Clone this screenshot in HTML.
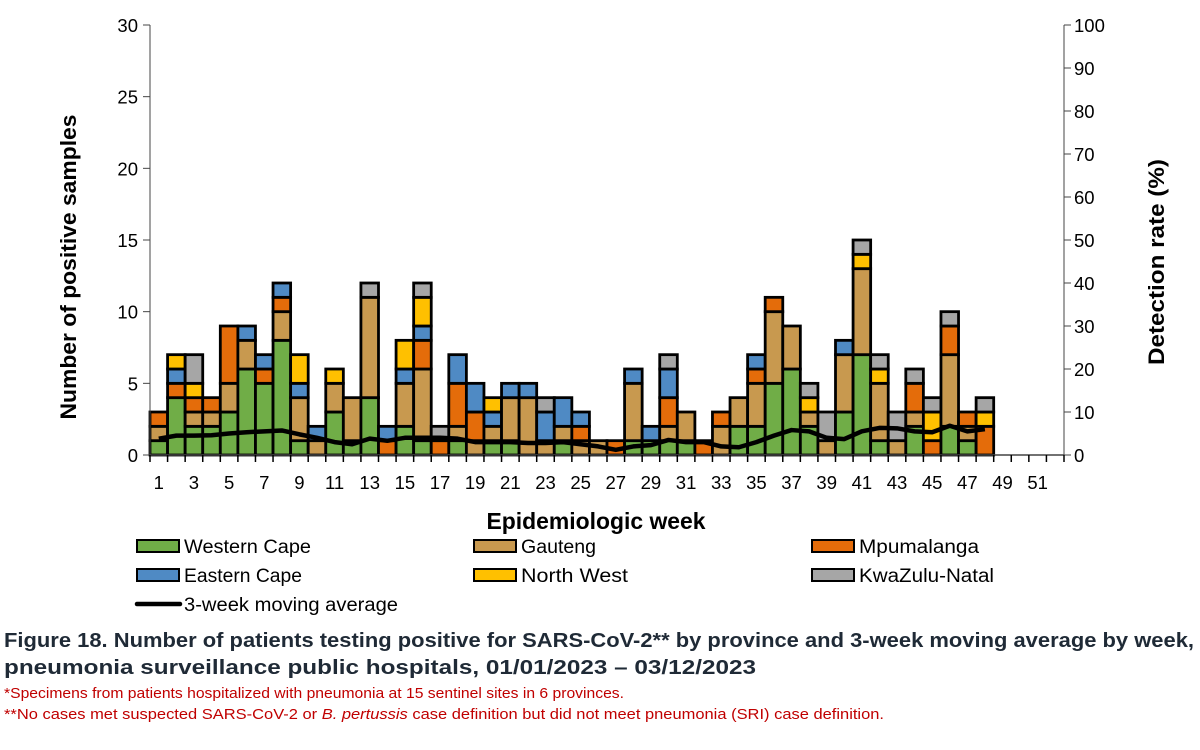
<!DOCTYPE html>
<html><head><meta charset="utf-8"><style>
body{margin:0;background:#fff;width:1200px;height:745px;overflow:hidden;font-family:"Liberation Sans",sans-serif}
svg text{font-family:"Liberation Sans",sans-serif}
</style></head><body>
<svg id="c" width="1200" height="745"></svg>
<script>
const weeks=[];for(let i=1;i<=52;i++)weeks.push(i);
const westernCape=[1,4,2,2,3,6,5,8,1,0,3,1,4,0,2,1,0,1,0,1,1,0,0,1,0,0,0,1,1,1,1,0,0,2,2,5,6,2,0,3,7,1,0,2,0,2,1,0];
const gauteng=[1,0,1,1,2,2,0,2,3,1,2,3,7,0,3,5,0,1,1,1,3,4,1,1,1,1,0,4,0,1,2,0,2,2,3,5,3,1,1,4,6,4,1,1,0,5,1,0];
const mpumalanga=[1,1,1,1,4,0,1,1,0,0,0,0,0,1,0,2,1,3,2,0,0,0,0,0,1,0,1,0,0,2,0,1,1,0,1,1,0,0,0,0,0,0,0,2,1,2,1,2];
const easternCape=[0,1,0,0,0,1,1,1,1,1,0,0,0,1,1,1,0,2,2,1,1,1,2,2,1,0,0,1,1,2,0,0,0,0,1,0,0,0,0,1,0,0,0,0,0,0,0,0];
const northWest=[0,1,1,0,0,0,0,0,2,0,1,0,0,0,2,2,0,0,0,1,0,0,0,0,0,0,0,0,0,0,0,0,0,0,0,0,0,1,0,0,1,1,0,0,2,0,0,1];
const kwaZuluNatal=[0,0,2,0,0,0,0,0,0,0,0,0,1,0,0,1,1,0,0,0,0,0,1,0,0,0,0,0,0,1,0,0,0,0,0,0,0,1,2,0,1,1,2,1,1,1,0,1];
const movingAvg=[3.8,4.5,4.5,4.6,5.0,5.3,5.5,5.7,4.8,4.0,3.0,2.5,3.8,3.3,4.0,4.0,4.0,3.8,3.0,3.0,3.0,2.8,2.8,3.0,2.5,2.0,1.2,2.0,2.3,3.5,3.0,3.0,2.0,1.8,3.0,4.5,5.8,5.5,4.0,3.7,5.5,6.3,6.2,5.5,5.3,6.8,5.5,6.0];
const leftTicks=[0,5,10,15,20,25,30];
const rightTicks=[0,10,20,30,40,50,60,70,80,90,100];

const NS="http://www.w3.org/2000/svg";
const svg=document.getElementById('c');
const X0=150,X1=1064,Y0=455,Y1=25,slot=(X1-X0)/52;
const y=v=>Y0-(v/30)*(Y0-Y1);
const yr=v=>Y0-(v/100)*(Y0-Y1);
const xs=w=>X0+(w-1)*slot;
function mk(t,a,txt){const e=document.createElementNS(NS,t);for(const k in a)e.setAttribute(k,a[k]);if(txt!==undefined)e.textContent=txt;svg.appendChild(e);return e;}

const series=[["western-cape",westernCape,"#70ad47"],["gauteng",gauteng,"#c8994f"],["mpumalanga",mpumalanga,"#e46c0a"],["eastern-cape",easternCape,"#4f8ac4"],["north-west",northWest,"#ffc000"],["kwazulu-natal",kwaZuluNatal,"#a6a6a6"]];
for(let i=0;i<westernCape.length;i++){
  let base=0;
  for(const [nm,arr,col] of series){
    const v=arr[i];if(!v)continue;
    const r=mk('rect',{x:xs(i+1),y:y(base+v),width:slot,height:y(base)-y(base+v),fill:col,stroke:'#000','stroke-width':2.8});
    
    
    base+=v;
  }
}
let a=mk('line',{x1:X0,y1:Y1,x2:X0,y2:Y0,stroke:'#444','stroke-width':1});

a=mk('line',{x1:X1,y1:Y1,x2:X1,y2:Y0,stroke:'#444','stroke-width':1});

a=mk('line',{x1:X0,y1:Y0,x2:X1,y2:Y0,stroke:'#444','stroke-width':1.5});

for(const t of leftTicks){
  mk('line',{x1:X0-7,y1:y(t),x2:X0,y2:y(t),stroke:'#444'});
  const e=mk('text',{x:X0-12,y:y(t)+7,'text-anchor':'end','font-size':18.5,fill:'#000'},t);
  
}
for(const t of rightTicks){
  mk('line',{x1:X1,y1:yr(t),x2:X1+7,y2:yr(t),stroke:'#444'});
  const e=mk('text',{x:X1+10,y:yr(t)+7,'font-size':18.5,fill:'#000'},t);
  
}
for(let w=0;w<=52;w++)mk('line',{x1:X0+w*slot,y1:Y0,x2:X0+w*slot,y2:Y0+7,stroke:'#000','stroke-width':1.5});
for(const w of weeks){if(w%2==1){
  const e=mk('text',{x:xs(w)+slot/2,y:Y0+34,'text-anchor':'middle','font-size':18.5,fill:'#000'},w);
  
}}
let d='';movingAvg.forEach((v,i)=>{d+=(i?'L':'M')+(xs(i+1)+slot/2)+','+yr(v);});
const ln=mk('path',{d:d,fill:'none',stroke:'#000','stroke-width':4.5,'stroke-linejoin':'round'});

let t=mk('text',{x:76,y:267,'text-anchor':'middle','font-size':22,'font-weight':'bold',transform:'rotate(-90 76 267)',textLength:305,lengthAdjust:'spacingAndGlyphs'},'Number of positive samples');

t=mk('text',{x:1164,y:262,'text-anchor':'middle','font-size':22,'font-weight':'bold',transform:'rotate(-90 1164 262)',textLength:206,lengthAdjust:'spacingAndGlyphs'},'Detection rate (%)');

t=mk('text',{x:596,y:529,'text-anchor':'middle','font-size':23,'font-weight':'bold',textLength:219,lengthAdjust:'spacingAndGlyphs'},'Epidemiologic week');

const leg=[["Western Cape","#70ad47",137,546,127],["Gauteng","#c8994f",474,546,75],["Mpumalanga","#e46c0a",812,546,120],["Eastern Cape","#4f8ac4",137,575,118],["North West","#ffc000",474,575,107],["KwaZulu-Natal","#a6a6a6",812,575,135]];
for(const [n,c,lx,ly,tl] of leg){
  const r=mk('rect',{x:lx,y:ly-6,width:42,height:12,fill:c,stroke:'#000','stroke-width':2});
  
  const e=mk('text',{x:lx+47,y:ly+7,'font-size':19,textLength:tl,lengthAdjust:'spacingAndGlyphs'},n);
  
}
mk('line',{x1:137,y1:604,x2:180,y2:604,stroke:'#000','stroke-width':4.5,'stroke-linecap':'round'});
t=mk('text',{x:184,y:611,'font-size':19,textLength:214,lengthAdjust:'spacingAndGlyphs'},'3-week moving average');

t=mk('text',{x:4,y:647,'font-size':20,'font-weight':'bold',fill:'#1f2a36',textLength:1190,lengthAdjust:'spacingAndGlyphs'},'Figure 18. Number of patients testing positive for SARS-CoV-2** by province and 3-week moving average by week,');

t=mk('text',{x:4,y:674,'font-size':20,'font-weight':'bold',fill:'#1f2a36',textLength:752,lengthAdjust:'spacingAndGlyphs'},'pneumonia surveillance public hospitals, 01/01/2023 – 03/12/2023');

t=mk('text',{x:4,y:698,'font-size':15,fill:'#c00000',textLength:620,lengthAdjust:'spacingAndGlyphs'},'*Specimens from patients hospitalized with pneumonia at 15 sentinel sites in 6 provinces.');

t=mk('text',{x:4,y:719,'font-size':15,fill:'#c00000',textLength:880,lengthAdjust:'spacingAndGlyphs'});
t.innerHTML='**No cases met suspected SARS-CoV-2 or <tspan font-style="italic">B. pertussis</tspan> case definition but did not meet pneumonia (SRI) case definition.';

</script>
</body></html>
